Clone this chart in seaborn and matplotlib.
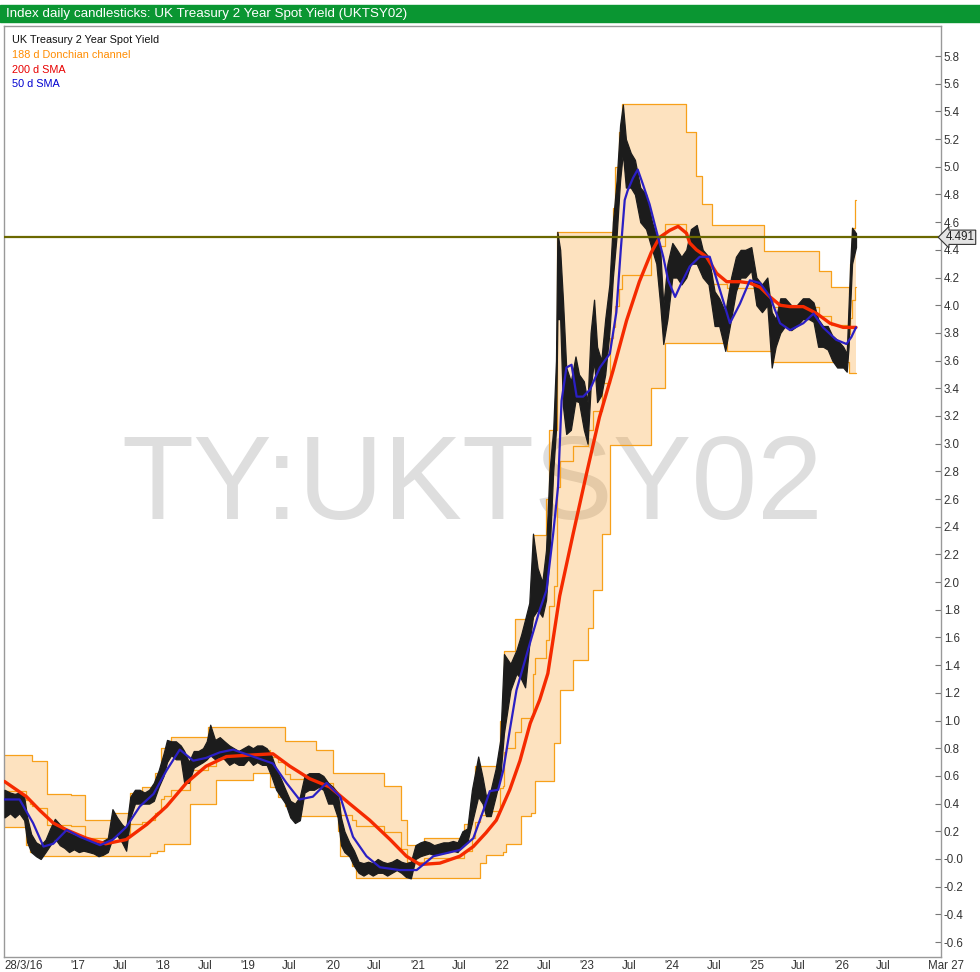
import pandas as pd
import numpy as np
import matplotlib
matplotlib.use("Agg")
import matplotlib.pyplot as plt
import matplotlib.transforms as mtransforms
from matplotlib.patches import Rectangle
import seaborn as sns

sns.set_theme(style="white")
plt.rcParams['font.family'] = ['Liberation Sans', 'DejaVu Sans']

# --- daily candle range (date, low, high) ---
price_dates = [
    "2016-03-22", "2016-04-15", "2016-05-05", "2016-05-25", "2016-06-15", "2016-06-28",
    "2016-07-15", "2016-08-05", "2016-08-25", "2016-09-15", "2016-10-05", "2016-10-25",
    "2016-11-15", "2016-12-05", "2016-12-25", "2017-01-15", "2017-02-05", "2017-02-25",
    "2017-03-20", "2017-04-10", "2017-05-01", "2017-05-20", "2017-06-10", "2017-06-30",
    "2017-07-20", "2017-08-10", "2017-08-28", "2017-09-15", "2017-10-05", "2017-10-25",
    "2017-11-15", "2017-12-05", "2017-12-25", "2018-01-15", "2018-02-05", "2018-02-20",
    "2018-03-10", "2018-03-30", "2018-04-20", "2018-05-05", "2018-05-25", "2018-06-15",
    "2018-07-05", "2018-07-25", "2018-08-10", "2018-08-25", "2018-09-15", "2018-10-05",
    "2018-10-25", "2018-11-15", "2018-12-05", "2018-12-25", "2019-01-15", "2019-02-05",
    "2019-02-25", "2019-03-15", "2019-04-05", "2019-04-25", "2019-05-15", "2019-06-05",
    "2019-06-25", "2019-07-15", "2019-08-05", "2019-08-25", "2019-09-15", "2019-10-05",
    "2019-10-25", "2019-11-15", "2019-12-05", "2019-12-25", "2020-01-15", "2020-02-05",
    "2020-02-25", "2020-03-10", "2020-03-25", "2020-04-15", "2020-05-05", "2020-05-25",
    "2020-06-15", "2020-07-05", "2020-07-25", "2020-08-15", "2020-09-05", "2020-09-25",
    "2020-10-15", "2020-11-05", "2020-11-25", "2020-12-15", "2021-01-05", "2021-01-25",
    "2021-02-15", "2021-03-05", "2021-03-25", "2021-04-15", "2021-05-05", "2021-05-25",
    "2021-06-15", "2021-07-05", "2021-07-25", "2021-08-15", "2021-09-05", "2021-09-25",
    "2021-10-22", "2021-11-10", "2021-11-25", "2021-12-15", "2022-01-05", "2022-01-25",
    "2022-02-10", "2022-03-10", "2022-04-05", "2022-04-25", "2022-05-12", "2022-05-30",
    "2022-06-15", "2022-07-05", "2022-07-25", "2022-08-10", "2022-08-25", "2022-09-10",
    "2022-09-22", "2022-09-28", "2022-10-10", "2022-10-22", "2022-11-05", "2022-11-25",
    "2022-12-15", "2022-12-30", "2023-01-20", "2023-02-05", "2023-02-18", "2023-03-05",
    "2023-03-18", "2023-04-05", "2023-04-22", "2023-05-10", "2023-05-25", "2023-06-10",
    "2023-06-25", "2023-07-07", "2023-07-20", "2023-08-10", "2023-08-28", "2023-09-20",
    "2023-10-15", "2023-11-10", "2023-11-28", "2023-12-15", "2023-12-28", "2024-01-15",
    "2024-02-05", "2024-02-25", "2024-03-15", "2024-04-05", "2024-04-25", "2024-05-20",
    "2024-06-15", "2024-07-10", "2024-08-05", "2024-08-25", "2024-09-20", "2024-10-15",
    "2024-11-05", "2024-11-25", "2024-12-15", "2025-01-10", "2025-02-01", "2025-02-25",
    "2025-03-20", "2025-04-08", "2025-04-25", "2025-05-15", "2025-06-05", "2025-07-01",
    "2025-07-25", "2025-08-20", "2025-09-15", "2025-10-05", "2025-10-25", "2025-11-15",
    "2025-12-05", "2025-12-25", "2026-01-15", "2026-02-10", "2026-02-25", "2026-03-05",
    "2026-03-12", "2026-03-20", "2026-04-06",
]
price_low = [
    0.30, 0.33, 0.30, 0.33, 0.28, 0.12, 0.05, 0.02, 0.00, 0.05, 0.10, 0.15,
    0.10, 0.08, 0.05, 0.07, 0.05, 0.06, 0.05, 0.04, 0.02, 0.03, 0.05, 0.15,
    0.17, 0.12, 0.06, 0.30, 0.40, 0.40, 0.40, 0.40, 0.42, 0.52, 0.60, 0.70,
    0.75, 0.72, 0.72, 0.55, 0.55, 0.66, 0.68, 0.70, 0.72, 0.75, 0.72, 0.74,
    0.72, 0.68, 0.70, 0.68, 0.68, 0.72, 0.68, 0.70, 0.68, 0.68, 0.60, 0.50,
    0.45, 0.40, 0.30, 0.26, 0.28, 0.48, 0.50, 0.50, 0.52, 0.50, 0.40, 0.40,
    0.30, 0.10, 0.05, 0.02, -0.05, -0.10, -0.12, -0.10, -0.12, -0.10, -0.10, -0.12,
    -0.10, -0.08, -0.10, -0.13, -0.14, 0.00, 0.02, 0.03, 0.04, 0.03, 0.04, 0.05,
    0.05, 0.06, 0.05, 0.10, 0.12, 0.26, 0.45, 0.40, 0.31, 0.31, 0.45, 0.59,
    0.91, 1.22, 1.34, 1.30, 1.24, 1.55, 1.75, 1.80, 1.75, 1.87, 2.20, 2.80,
    3.10, 3.90, 3.90, 3.27, 3.07, 3.10, 3.31, 3.30, 3.10, 3.00, 3.40, 3.60,
    3.30, 3.35, 3.50, 3.80, 4.20, 4.50, 4.90, 5.10, 4.85, 4.85, 4.80, 4.60,
    4.55, 4.40, 4.30, 4.00, 3.72, 3.90, 4.20, 4.20, 4.15, 4.20, 4.30, 4.30,
    4.20, 4.15, 3.85, 3.85, 3.67, 3.90, 4.10, 4.20, 4.20, 4.25, 4.00, 3.95,
    4.00, 3.55, 3.70, 3.80, 3.85, 3.82, 3.85, 3.90, 3.90, 3.88, 3.70, 3.70,
    3.68, 3.60, 3.55, 3.55, 3.52, 3.70, 4.00, 4.30, 4.42,
]
price_high = [
    0.50, 0.48, 0.47, 0.48, 0.45, 0.30, 0.18, 0.12, 0.10, 0.14, 0.22, 0.29,
    0.25, 0.22, 0.20, 0.18, 0.17, 0.15, 0.15, 0.14, 0.12, 0.13, 0.15, 0.36,
    0.30, 0.25, 0.22, 0.45, 0.50, 0.50, 0.48, 0.50, 0.55, 0.64, 0.76, 0.86,
    0.85, 0.85, 0.82, 0.78, 0.70, 0.78, 0.78, 0.80, 0.85, 0.97, 0.86, 0.88,
    0.85, 0.82, 0.80, 0.78, 0.80, 0.82, 0.80, 0.82, 0.82, 0.80, 0.75, 0.65,
    0.58, 0.50, 0.42, 0.40, 0.45, 0.60, 0.62, 0.62, 0.62, 0.60, 0.55, 0.52,
    0.48, 0.30, 0.20, 0.12, 0.06, -0.02, -0.03, -0.02, -0.03, 0.00, -0.02, -0.03,
    -0.02, 0.00, -0.02, -0.03, -0.02, 0.10, 0.12, 0.13, 0.12, 0.10, 0.11, 0.12,
    0.12, 0.13, 0.12, 0.20, 0.22, 0.50, 0.74, 0.59, 0.45, 0.50, 0.65, 0.86,
    1.48, 1.41, 1.51, 1.62, 1.73, 1.85, 2.35, 2.10, 2.00, 2.23, 2.80, 3.10,
    3.60, 4.53, 4.40, 4.04, 3.55, 3.45, 3.63, 3.50, 3.45, 3.30, 3.80, 4.04,
    3.70, 3.60, 3.90, 4.15, 4.60, 4.90, 5.30, 5.45, 5.20, 5.10, 5.05, 4.85,
    4.80, 4.60, 4.50, 4.40, 4.00, 4.30, 4.45, 4.40, 4.35, 4.40, 4.55, 4.58,
    4.40, 4.35, 4.10, 4.05, 3.95, 4.20, 4.35, 4.40, 4.40, 4.42, 4.20, 4.15,
    4.20, 3.95, 3.90, 4.05, 4.05, 4.00, 4.00, 4.05, 4.05, 4.02, 3.90, 3.85,
    3.85, 3.78, 3.75, 3.70, 3.65, 4.00, 4.30, 4.56, 4.52,
]
last_close = 4.491

# --- 200 d SMA ---
sma200_dates = [
    "2016-03-22", "2016-06-25", "2016-08-22", "2016-10-18", "2016-12-15", "2017-03-10",
    "2017-06-01", "2017-08-28", "2017-11-25", "2018-02-18", "2018-05-15", "2018-08-07",
    "2018-11-03", "2019-02-10", "2019-05-22", "2019-08-03", "2019-10-27", "2020-01-22",
    "2020-04-16", "2020-07-12", "2020-10-08", "2020-12-17", "2021-02-13", "2021-05-10",
    "2021-08-04", "2021-10-01", "2021-11-25", "2022-01-08", "2022-03-07", "2022-04-20",
    "2022-06-03", "2022-07-14", "2022-08-18", "2022-09-09", "2022-10-08", "2022-12-05",
    "2023-01-31", "2023-03-28", "2023-05-26", "2023-07-23", "2023-09-16", "2023-11-06",
    "2023-12-12", "2024-01-24", "2024-03-01", "2024-04-06", "2024-04-20", "2024-05-19",
    "2024-07-01", "2024-08-14", "2024-09-26", "2024-11-22", "2025-01-04", "2025-02-17",
    "2025-04-01", "2025-05-14", "2025-06-26", "2025-08-22", "2025-10-19", "2025-12-15",
    "2026-02-10", "2026-04-06",
]
sma200 = [
    0.56, 0.45, 0.35, 0.26, 0.21, 0.15, 0.11, 0.14, 0.25, 0.38, 0.55, 0.67,
    0.74, 0.75, 0.76, 0.67, 0.58, 0.52, 0.40, 0.28, 0.14, 0.02, -0.04, -0.03,
    0.02, 0.09, 0.19, 0.28, 0.50, 0.71, 0.98, 1.15, 1.34, 1.58, 1.90, 2.35,
    2.78, 3.19, 3.53, 3.89, 4.17, 4.38, 4.49, 4.54, 4.57, 4.52, 4.45, 4.40,
    4.35, 4.23, 4.17, 4.17, 4.16, 4.13, 4.06, 4.00, 3.99, 3.99, 3.94, 3.87,
    3.84, 3.84,
]

# --- 50 d SMA ---
sma50_dates = [
    "2016-03-22", "2016-05-26", "2016-07-23", "2016-09-06", "2016-10-18", "2016-12-15",
    "2017-02-10", "2017-05-08", "2017-07-02", "2017-08-28", "2017-10-26", "2017-12-24",
    "2018-02-18", "2018-04-16", "2018-06-13", "2018-08-07", "2018-10-05", "2018-12-02",
    "2019-02-25", "2019-05-22", "2019-07-19", "2019-09-13", "2019-11-10", "2020-01-08",
    "2020-03-07", "2020-05-01", "2020-06-28", "2020-08-25", "2020-11-18", "2021-01-30",
    "2021-04-12", "2021-08-04", "2021-10-01", "2021-11-13", "2021-12-11", "2022-01-16",
    "2022-02-07", "2022-03-07", "2022-04-05", "2022-05-04", "2022-06-02", "2022-07-14",
    "2022-08-12", "2022-09-10", "2022-10-01", "2022-10-16", "2022-11-06", "2022-11-28",
    "2022-12-20", "2023-01-17", "2023-02-15", "2023-03-30", "2023-05-12", "2023-06-09",
    "2023-06-28", "2023-07-15", "2023-07-28", "2023-08-20", "2023-09-09", "2023-09-30",
    "2023-10-30", "2023-11-28", "2023-12-28", "2024-01-18", "2024-02-17", "2024-03-15",
    "2024-04-20", "2024-06-02", "2024-07-15", "2024-08-28", "2024-10-10", "2024-11-22",
    "2025-01-04", "2025-02-17", "2025-04-01", "2025-05-14", "2025-06-26", "2025-08-22",
    "2025-10-05", "2025-11-15", "2026-01-11", "2026-02-24", "2026-03-17", "2026-04-06",
]
sma50 = [
    0.43, 0.43, 0.26, 0.09, 0.11, 0.21, 0.16, 0.10, 0.14, 0.23, 0.38, 0.47,
    0.64, 0.79, 0.71, 0.73, 0.77, 0.79, 0.74, 0.69, 0.55, 0.43, 0.45, 0.55,
    0.45, 0.16, 0.02, -0.06, -0.08, -0.08, 0.02, 0.065, 0.15, 0.35, 0.49, 0.50,
    0.64, 0.93, 1.22, 1.39, 1.56, 1.80, 1.94, 2.35, 2.69, 3.31, 3.55, 3.57,
    3.34, 3.34, 3.39, 3.55, 3.65, 3.95, 4.40, 4.76, 4.83, 4.92, 4.98, 4.88,
    4.73, 4.54, 4.35, 4.18, 4.06, 4.16, 4.28, 4.35, 4.35, 4.11, 3.87, 4.01,
    4.18, 4.16, 4.06, 3.87, 3.82, 3.87, 3.94, 3.84, 3.75, 3.72, 3.77, 3.84,
]

# --- 188 d Donchian channel, step values (date the level starts) ---
dc_upper_dates = [
    "2016-03-20", "2016-07-20", "2016-09-20", "2017-01-01", "2017-03-05", "2017-07-01",
    "2017-09-12", "2017-11-05", "2018-01-01", "2018-01-25", "2018-03-10", "2018-08-15",
    "2019-07-15", "2019-11-25", "2020-02-05", "2020-09-10", "2020-11-25", "2020-12-20",
    "2021-03-01", "2021-08-20", "2021-09-25", "2021-10-10", "2022-01-25", "2022-02-10",
    "2022-03-30", "2022-06-15", "2022-08-10", "2022-08-25", "2022-09-27", "2023-05-25",
    "2023-06-05", "2023-06-20", "2023-07-05", "2024-04-05", "2024-05-18", "2024-06-10",
    "2024-07-23", "2025-03-05", "2025-10-27", "2025-12-20", "2026-03-05", "2026-03-12",
    "2026-03-20", "2026-04-02",
]
dc_upper = [
    0.75, 0.71, 0.47, 0.46, 0.28, 0.33, 0.48, 0.52, 0.62, 0.80, 0.88, 0.95,
    0.85, 0.79, 0.62, 0.53, 0.28, 0.10, 0.15, 0.25, 0.45, 0.67, 1.00, 1.50,
    1.73, 2.34, 2.60, 3.10, 4.53, 4.70, 5.00, 5.25, 5.45, 5.25, 4.93, 4.73,
    4.58, 4.39, 4.25, 4.13, 4.08, 4.30, 4.56, 4.76,
]
dc_lower_dates = [
    "2016-03-20", "2016-06-24", "2016-07-10", "2016-08-08", "2017-12-10", "2018-01-10",
    "2018-02-05", "2018-05-28", "2018-09-20", "2019-02-25", "2019-05-10", "2019-06-15",
    "2019-07-15", "2019-08-05", "2020-02-28", "2020-03-08", "2020-04-25", "2020-05-15",
    "2021-10-28", "2021-11-25", "2022-02-05", "2022-02-20", "2022-04-25", "2022-06-05",
    "2022-06-25", "2022-09-15", "2022-10-08", "2022-12-05", "2023-02-05", "2023-03-01",
    "2023-04-10", "2023-05-12", "2023-11-05", "2024-01-03", "2024-09-27", "2025-04-15",
    "2026-03-05",
]
dc_lower = [
    0.23, 0.10, 0.05, 0.02, 0.04, 0.06, 0.11, 0.40, 0.57, 0.62, 0.52, 0.45,
    0.38, 0.31, 0.20, 0.02, -0.05, -0.14, -0.03, 0.03, 0.05, 0.11, 0.31, 0.33,
    0.56, 0.84, 1.22, 1.44, 1.67, 1.94, 2.35, 2.99, 3.40, 3.73, 3.67, 3.59,
    3.51,
]
end_date = "2026-04-06"

y_ticks = [round(-0.6 + 0.2 * i, 1) for i in range(33)]

# colours
ORANGE = "#f7a01a"
RED = "#f52a00"
BLUE = "#2b1fc4"

price = pd.DataFrame({"date": pd.to_datetime(price_dates), "low": price_low, "high": price_high})
s200 = pd.DataFrame({"date": pd.to_datetime(sma200_dates), "value": sma200})
s50 = pd.DataFrame({"date": pd.to_datetime(sma50_dates), "value": sma50})

up = pd.Series(dc_upper, index=pd.to_datetime(dc_upper_dates))
lo = pd.Series(dc_lower, index=pd.to_datetime(dc_lower_dates))
idx = up.index.union(lo.index).union(pd.DatetimeIndex([pd.Timestamp(end_date)]))
dc = pd.DataFrame({"upper": up.reindex(idx).ffill(), "lower": lo.reindex(idx).ffill()})
dc["middle"] = (dc["upper"] + dc["lower"]) / 2
dc = dc.reset_index().rename(columns={"index": "date"})

W, H = 980, 972
fig = plt.figure(figsize=(W / 100, H / 100), dpi=100)
ax = fig.add_axes([4 / W, 15 / H, 937 / W, 931 / H])
ax.set_facecolor("white")

# watermark
fig_tr = mtransforms.blended_transform_factory(fig.transFigure, fig.transFigure)
ax.text(472 / W, 1 - 488 / H, "TY:UKTSY02", transform=fig_tr,
        fontsize=85, color="#dedede", ha="center", va="center", zorder=0.5)

# donchian channel
ax.fill_between(dc["date"], dc["lower"], dc["upper"], step="post", color="#fa9614", alpha=0.27, lw=0, zorder=1)
for col in ["upper", "lower", "middle"]:
    sns.lineplot(data=dc, x="date", y=col, ax=ax, color=ORANGE, lw=0.9, drawstyle="steps-post", zorder=2)

# candles
ax.fill_between(price["date"], price["low"], price["high"], color="#1c1c1c", lw=0.9, edgecolor="#1c1c1c", zorder=3)

sns.lineplot(data=s200, x="date", y="value", ax=ax, color=RED, lw=2.4, zorder=4)
sns.lineplot(data=s50, x="date", y="value", ax=ax, color=BLUE, lw=1.6, zorder=5)

ax.axhline(last_close, color="#6b6800", lw=1.6, zorder=6)

# axes, ticks
ax.set_xlim(pd.Timestamp("2016-03-20"), pd.Timestamp("2027-04-07"))
ax.set_ylim(-0.708, 6.017)
ax.set_xlabel("")
ax.set_ylabel("")

tick_dates = pd.date_range("2016-04-01", "2027-01-01", freq="QS")
xlabels = []
for d in tick_dates:
    if d.month == 1 and d.year < 2027:
        xlabels.append("'%02d" % (d.year % 100))
    elif d.month == 7 and d.year > 2016:
        xlabels.append("Jul")
    else:
        xlabels.append("")
ax.set_xticks(tick_dates)
ax.set_xticklabels(xlabels, ha="left")

ax.yaxis.tick_right()
ax.set_yticks(y_ticks)
ax.set_yticklabels(["-0.0" if v == 0 else "%.1f" % v for v in y_ticks])
ax.tick_params(axis="both", direction="in", length=4, width=0.8, color="#777777",
               labelsize=8.3, labelcolor="#333333", pad=2)
ax.tick_params(axis="x", pad=2)
for sp in ax.spines.values():
    sp.set_color("#999999")
    sp.set_linewidth(1)
    sp.set_visible(True)

fig.text(4 / W, 1 - 966 / H, "28/3/16", fontsize=8.3, color="#333333", va="center", ha="left")
fig.text(964 / W, 1 - 966 / H, "Mar 27", fontsize=8.3, color="#333333", va="center", ha="right")

# last value tag
ax.text(1.005, last_close, "4.491", transform=mtransforms.blended_transform_factory(ax.transAxes, ax.transData),
        fontsize=8.3, color="#222222", ha="left", va="center", clip_on=False, zorder=7,
        bbox=dict(boxstyle="larrow,pad=0.1", fc="#e4e4e4", ec="#333333", lw=0.8))

# title bar
fig.add_artist(Rectangle((0, 1 - 22 / H), 1, 17 / H, transform=fig.transFigure, color="#0a9632", zorder=0))
fig.text(6 / W, 1 - 13.5 / H, "Index daily candlesticks: UK Treasury 2 Year Spot Yield (UKTSY02)",
         fontsize=9.6, color="white", va="center", ha="left")

# legend texts
legend_items = [("UK Treasury 2 Year Spot Yield", "#111111"), ("188 d Donchian channel", "#ff8c00"),
                ("200 d SMA", "#e80000"), ("50 d SMA", "#0000d0")]
for i, (txt, c) in enumerate(legend_items):
    fig.text(12 / W, 1 - (40 + 14.8 * i) / H, txt, fontsize=7.8, color=c, va="center", ha="left")

fig.savefig("out.png", dpi=100)
